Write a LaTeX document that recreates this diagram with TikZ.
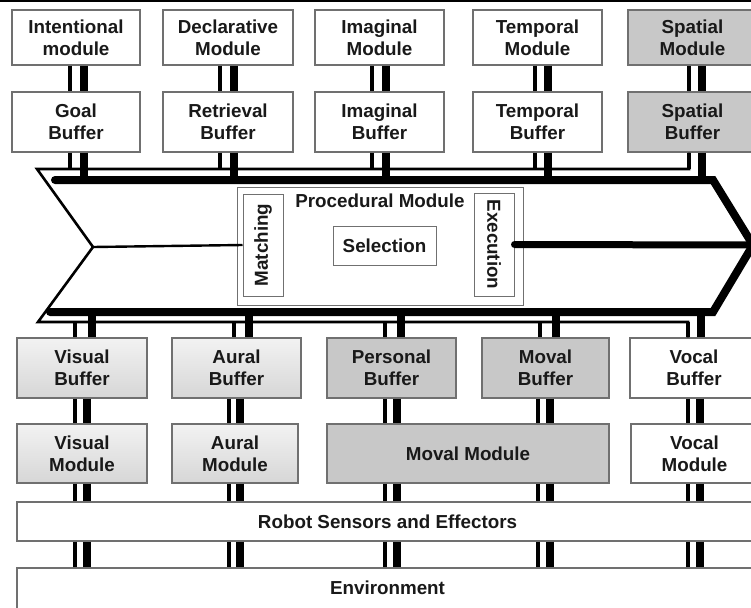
\documentclass[tikz,border=0pt]{standalone}
\usepackage{fontspec}
\setmainfont{Liberation Sans}
\usepackage{graphicx}
\definecolor{boxline}{HTML}{707070}
\definecolor{darkfill}{HTML}{C8C8C8}
\begin{document}
\begin{tikzpicture}[x=1pt,y=-1pt,
  box/.style={draw=boxline, line width=1.3pt, align=center, inner sep=0pt,
    font=\bfseries\fontsize{18.8}{22}\selectfont, text=black!90},
  grad/.style={box, top color=gray!10, bottom color=gray!32},
  dark/.style={box, fill=darkfill},
  thinc/.style={line width=4pt},
  thickc/.style={line width=8.5pt},
  trunkthin/.style={line width=2.6pt, line join=miter},
  trunkthick/.style={line width=8pt, line cap=round, line join=miter}]
\clip (0,0) rectangle (751,607);
\fill[white] (0,0) rectangle (751,607);
\draw[line width=2.5pt] (0,0.5) -- (751,0.5);

% top modules
\node[box, minimum width=128, minimum height=55] (intent) at (76,37.5) {Intentional\\module};
\node[box, minimum width=130, minimum height=55] (decl) at (228,37.5) {Declarative\\Module};
\node[box, minimum width=129, minimum height=55] (imag) at (379.5,37.5) {Imaginal\\Module};
\node[box, minimum width=129, minimum height=55] (temp) at (537.5,37.5) {Temporal\\Module};
\node[dark, minimum width=129, minimum height=55] (spat) at (692.5,37.5) {Spatial\\Module};
% top buffers
\node[box, minimum width=128, minimum height=60] (goal) at (76,122) {Goal\\Buffer};
\node[box, minimum width=130, minimum height=60] (retr) at (228,122) {Retrieval\\Buffer};
\node[box, minimum width=129, minimum height=60] (imagb) at (379.5,122) {Imaginal\\Buffer};
\node[box, minimum width=129, minimum height=60] (tempb) at (537.5,122) {Temporal\\Buffer};
\node[dark, minimum width=129, minimum height=60] (spatb) at (692.5,122) {Spatial\\Buffer};

% bottom buffers
\node[grad, minimum width=130, minimum height=60] (visb) at (82,368) {Visual\\Buffer};
\node[grad, minimum width=129, minimum height=60] (aurb) at (236.5,368) {Aural\\Buffer};
\node[dark, minimum width=129, minimum height=60] (perb) at (391.5,368) {Personal\\Buffer};
\node[dark, minimum width=127, minimum height=60] (movb) at (545.5,368) {Moval\\Buffer};
\node[box, minimum width=128, minimum height=60] (vocb) at (694,368) {Vocal\\Buffer};
% bottom modules
\node[grad, minimum width=130, minimum height=59] (vism) at (82,453.5) {Visual\\Module};
\node[grad, minimum width=126, minimum height=59] (aurm) at (235,453.5) {Aural\\Module};
\node[dark, minimum width=282, minimum height=59] (movm) at (468,453.5) {Moval Module};
\node[box, minimum width=127, minimum height=59] (vocm) at (694.5,453.5) {Vocal\\Module};
\node[box, minimum width=741, minimum height=39] (robot) at (387.5,521.5) {Robot Sensors and Effectors};
\node[box, minimum width=741, minimum height=52] (env) at (387.5,594) {\raisebox{12pt}{Environment}};

% procedural module
\node[box, line width=1pt, minimum width=286, minimum height=118] (proc) at (380,246) {};
\node[font=\bfseries\fontsize{18.8}{22}\selectfont, text=black!90, inner sep=0pt] (proclabel) at (380,201) {Procedural Module};
\node[box, line width=1pt, minimum width=40, minimum height=102] (match) at (263,245) {\rotatebox{90}{Matching}};
\node[box, line width=1pt, minimum width=103, minimum height=39] (sel) at (384.5,245.5) {Selection};
\node[box, line width=1pt, minimum width=40, minimum height=103] (exec) at (494,244.5) {\rotatebox{-90}{Execution}};

% column coordinates (upper)
\coordinate (u1a) at (70,0);  \coordinate (u1b) at (84,0);
\coordinate (u2a) at (220,0); \coordinate (u2b) at (234,0);
\coordinate (u3a) at (372,0); \coordinate (u3b) at (386,0);
\coordinate (u4a) at (535,0); \coordinate (u4b) at (548,0);
\coordinate (u5a) at (689,0); \coordinate (u5b) at (702,0);
% lower, above buffers
\coordinate (p1a) at (75,0);  \coordinate (p1b) at (92,0);
\coordinate (p2a) at (234,0); \coordinate (p2b) at (249,0);
\coordinate (p3a) at (385,0); \coordinate (p3b) at (401,0);
\coordinate (p4a) at (540,0); \coordinate (p4b) at (556,0);
\coordinate (p5a) at (688,0); \coordinate (p5b) at (701,0);
% lower, below buffers
\coordinate (l1a) at (75,0);  \coordinate (l1b) at (87,0);
\coordinate (l2a) at (229,0); \coordinate (l2b) at (240,0);
\coordinate (l3a) at (385,0); \coordinate (l3b) at (397,0);
\coordinate (l4a) at (538,0); \coordinate (l4b) at (550,0);
\coordinate (l5a) at (688,0); \coordinate (l5b) at (700,0);

% trunk levels
\coordinate (ttop) at (0,169);
\coordinate (ktop) at (0,180);
\coordinate (kbot) at (0,312);
\coordinate (tbot) at (0,322);
\coordinate (notch) at (93,247);
\coordinate (tip) at (753,245);

% thin outline (conditions side)
\draw[trunkthin] (spatb.south -| u5a) -- (ttop -| u5a) -- (37,169) -- (notch)
  -- (38,322) -- (tbot -| p5a) -- (vocb.north -| p5a);
\draw[line width=2.4pt] (notch) -- (match.west);
% thick outline (action side)
\draw[trunkthick] (55,180) -- (713,180) -- (tip) -- (713,312) -- (50,312);
\draw[line width=7pt, line cap=round] (exec.east) -- (tip);

% upper connectors
\foreach \m/\b/\i in {intent/goal/1, decl/retr/2, imag/imagb/3, temp/tempb/4, spat/spatb/5}{
  \draw[thinc] (\m.south -| u\i a) -- (\b.north -| u\i a);
  \draw[thickc] (\m.south -| u\i b) -- (\b.north -| u\i b);
  \draw[thinc] (\b.south -| u\i a) -- (ttop -| u\i a);
  \draw[thickc] (\b.south -| u\i b) -- (ktop -| u\i b);
}
% lower connectors: trunk to buffers
\foreach \b/\i in {visb/1, aurb/2, perb/3, movb/4, vocb/5}{
  \draw[thinc] (tbot -| p\i a) -- (\b.north -| p\i a);
  \draw[thickc] (kbot -| p\i b) -- (\b.north -| p\i b);
}
% buffers to modules
\foreach \b/\m/\i in {visb/vism/1, aurb/aurm/2, perb/movm/3, movb/movm/4, vocb/vocm/5}{
  \draw[thinc] (\b.south -| l\i a) -- (\m.north -| l\i a);
  \draw[thickc] (\b.south -| l\i b) -- (\m.north -| l\i b);
}
% modules to robot, robot to environment
\foreach \m/\i in {vism/1, aurm/2, movm/3, movm/4, vocm/5}{
  \draw[thinc] (\m.south -| l\i a) -- (robot.north -| l\i a);
  \draw[thickc] (\m.south -| l\i b) -- (robot.north -| l\i b);
  \draw[thinc] (robot.south -| l\i a) -- (env.north -| l\i a);
  \draw[thickc] (robot.south -| l\i b) -- (env.north -| l\i b);
}
\end{tikzpicture}
\end{document}
